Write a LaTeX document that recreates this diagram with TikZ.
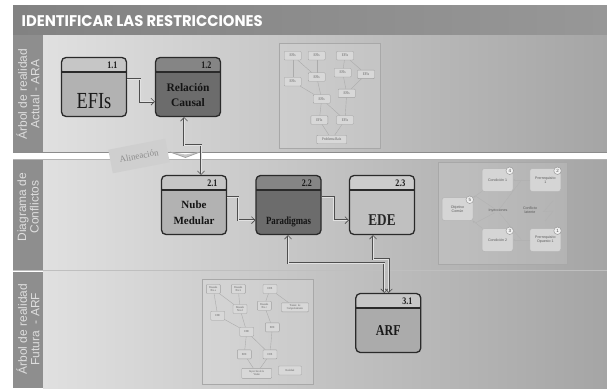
\documentclass[tikz,border=0pt]{standalone}
\usepackage{fontspec}
\usepackage{graphicx}
\setmainfont{Liberation Serif}
\setsansfont{Liberation Sans}
\newfontfamily\titlefont{Poppins}
\newfontfamily\narrowserif{Liberation Serif}[FakeStretch=0.8]
\usetikzlibrary{arrows.meta,calc}

\definecolor{titleL}{HTML}{828282}
\definecolor{titleR}{HTML}{979797}
\definecolor{bandgray}{HTML}{8E8E8E}
\definecolor{bandtext}{HTML}{DEDEDE}
\definecolor{laneL}{HTML}{E0E0E0}
\definecolor{laneM}{HTML}{D4D4D4}
\definecolor{laneR}{HTML}{A5A5A5}
\definecolor{boxline}{HTML}{2A2A2A}
\definecolor{lightHdr}{HTML}{C6C6C6}
\definecolor{lightBody}{HTML}{B2B2B2}
\definecolor{darkHdr}{HTML}{858585}
\definecolor{darkBody}{HTML}{6C6C6C}
\definecolor{edeHdr}{HTML}{CCCCCC}
\definecolor{edeBody}{HTML}{C0C0C0}
\definecolor{arfBody}{HTML}{ABABAB}
\definecolor{connline}{HTML}{4E4E4E}
\definecolor{connfill}{HTML}{E2E2E2}
\definecolor{insetline}{HTML}{A8A8A8}
\definecolor{miniline}{HTML}{A0A0A0}
\definecolor{minifill}{HTML}{D8D8D8}
\definecolor{minitext}{HTML}{5A5A5A}
\definecolor{minilink}{HTML}{ABABAB}
\definecolor{cloudline}{HTML}{B4B4B4}
\definecolor{cloudfill}{HTML}{D5D5D5}
\definecolor{tagfill}{HTML}{CFCFCF}
\definecolor{tagtext}{HTML}{8C8C8C}

\tikzset{
  procbox/.style 2 args={draw=boxline, line width=1.3pt, rounded corners=4.5pt,
    minimum width=65pt, minimum height=59pt, inner sep=0pt, fill=#2,
    path picture={
      \fill[#1] (path picture bounding box.north west) rectangle
        ([yshift=-14.5pt]path picture bounding box.north east);
      \draw[boxline, line width=1.1pt]
        ([yshift=-14.5pt]path picture bounding box.north west) --
        ([yshift=-14.5pt]path picture bounding box.north east);}},
  boxnum/.style={font=\narrowserif\bfseries\fontsize{10}{10}\selectfont,
    anchor=base east, inner sep=0pt, text=black!90},
  boxlbl/.style={font=\bfseries\fontsize{11.5}{15}\selectfont, align=center,
    inner sep=0pt, text=black!92},
  bandlbl/.style={rotate=90, align=center, text=bandtext, inner sep=0pt,
    font=\sffamily\fontsize{12}{12.5}\selectfont},
  conn/.style={draw=connline, double=connfill, line width=0.45pt,
    double distance=0.9pt},
  conntip/.tip={Straight Barb[length=3.5pt,width=7pt,line width=0.6pt]},
  mini/.style={draw=miniline, fill=minifill, line width=0.4pt,
    rounded corners=0.8pt, inner sep=0.4pt, minimum width=17pt,
    minimum height=8.5pt, align=center, text=minitext,
    font=\narrowserif\fontsize{4}{4.2}\selectfont},
  minis/.style={mini, minimum width=14pt, minimum height=9pt,
    font=\narrowserif\fontsize{3}{3.3}\selectfont},
  minilink/.style={draw=minilink, line width=0.4pt},
  inset/.style={draw=insetline, line width=0.5pt, fill=white, fill opacity=0.12},
  cloudbox/.style={draw=cloudline, fill=cloudfill, line width=0.5pt,
    rounded corners=2.5pt, minimum width=31pt, minimum height=23pt,
    inner sep=0.5pt, align=center, text=minitext,
    font=\sffamily\fontsize{3.6}{4}\selectfont},
  badge/.style={circle, draw=black!40, fill=black!6, line width=0.5pt,
    minimum size=7.5pt, inner sep=0pt, text=black!70,
    font=\sffamily\fontsize{4.5}{4.5}\selectfont},
  cloudtext/.style={inner sep=0pt, align=center, text=minitext,
    font=\sffamily\fontsize{3.6}{4}\selectfont},
  cloudlink/.style={draw=black!30, line width=0.4pt},
  cloudarrow/.style={cloudlink, -{Stealth[length=2.2pt,width=2.2pt]}}
}

\begin{document}
\begin{tikzpicture}[x=1pt,y=-1pt]
\useasboundingbox (0,0) rectangle (607,388);
\fill[white] (0,0) rectangle (607,388);

% title bar
\shade[left color=titleL, right color=titleR] (13,5) rectangle (607,35);
\node[anchor=west, inner sep=0pt, text=white] (title) at (21.5,21.5)
  {\resizebox{241pt}{11pt}{\titlefont\bfseries IDENTIFICAR LAS RESTRICCIONES}};

% swimlanes
\shade[left color=laneL, middle color=laneM, right color=laneR] (43,35) rectangle (607,152);
\shade[left color=laneL, middle color=laneM, right color=laneR] (43,159) rectangle (607,270);
\shade[left color=laneL, middle color=laneM, right color=laneR] (43,271.5) rectangle (607,388);
\fill[bandgray] (13,35) rectangle (43,152);
\fill[bandgray] (13,159) rectangle (43,270);
\fill[bandgray] (13,271.5) rectangle (43,388);
\fill[white] (13,152.5) rectangle (607,158.5);
\draw[black!45, line width=0.6pt] (13,152) -- (607,152);
\draw[black!30, line width=0.5pt] (13,159) -- (607,159);
\draw[black!25, line width=0.9pt] (13,270.8) -- (607,270.8);

% lane titles
\node[bandlbl] (lane1) at (28,94) {Árbol de realidad\\Actual - ARA};
\node[bandlbl] (lane2) at (28,207) {Diagrama de\\Conflictos};
\node[bandlbl] (lane3) at (28,329) {Árbol de realidad\\Futura~~- ARF};

% current reality tree thumbnail
\draw[inset] (279,43) rectangle (380,148);
\node[mini] (t1a) at (292.7,55.7) {EFIs};
\node[mini] (t1b) at (316.7,55.7) {EFIs};
\node[mini] (t1c) at (345,55.7) {EFIs};
\node[mini] (t1d) at (342.7,72.7) {EFIs};
\node[mini] (t1e) at (366,74.3) {EFIs};
\node[mini] (t1f) at (292.7,81.7) {EFIs};
\node[mini] (t1g) at (316.7,77) {EFIs};
\node[mini] (t1h) at (346.7,93.3) {EFIs};
\node[mini] (t1i) at (321.7,99) {EFIs};
\node[mini] (t1j) at (319.3,120) {EFIs};
\node[mini] (t1k) at (345,120) {EFIs};
\node[mini, minimum width=30pt] (t1r) at (331.7,139.5) {Problema Raíz};
\draw[minilink] (t1a) -- (t1f);
\draw[minilink] (t1a) -- (t1g);
\draw[minilink] (t1b) -- (t1g);
\draw[minilink] (t1c) -- (t1d);
\draw[minilink] (t1c) -- (t1e);
\draw[minilink] (t1d) -- (t1h);
\draw[minilink] (t1e) -- (t1h);
\draw[minilink] (t1f) -- (t1i);
\draw[minilink] (t1g) -- (t1i);
\draw[minilink] (t1i) -- (t1j);
\draw[minilink] (t1i) -- (t1k);
\draw[minilink] (t1h) -- (t1k);
\draw[minilink] (t1j) -- (t1r);
\draw[minilink] (t1k) -- (t1r);

% conflict cloud thumbnail
\draw[inset] (438,162) rectangle (567,264);
\node[cloudbox] (cond1) at (497.5,180) {Condición 1};
\node[cloudbox] (pre1) at (545.3,180) {Prerrequisito\\1};
\node[cloudbox] (obj) at (457.5,209) {Objetivo\\Común};
\node[cloudbox] (cond2) at (497.5,240) {Condición 2};
\node[cloudbox] (pre2) at (545.3,240) {Prerrequisito\\Opuesto 1};
\node[badge] (b4) at ($(cond1.north east)+(-3.5,2.5)$) {4};
\node[badge] (b2) at ($(pre1.north east)+(-3.5,2.5)$) {2};
\node[badge] (b5) at ($(obj.north east)+(-3.5,2.5)$) {5};
\node[badge] (b3) at ($(cond2.north east)+(-3.5,2.5)$) {3};
\node[badge] (b1) at ($(pre2.north east)+(-3.5,2.5)$) {1};
\node[cloudtext] (iny) at (498,211) {Inyecciones};
\node[cloudtext] (lat) at (530,210) {Conflicto\\latente};
\draw[cloudarrow] (cond1) -- (obj);
\draw[cloudarrow] (cond2) -- (obj);
\draw[cloudarrow] (pre1) -- (cond1);
\draw[cloudarrow] (pre2) -- (cond2);
\draw[cloudlink] (iny) -- ($(cond1)!0.55!(obj)$);
\draw[cloudlink] (iny) -- ($(cond2)!0.55!(obj)$);
\draw[cloudlink] (iny) -- ($(pre1.west)!0.5!(cond1.east)$);
\draw[cloudlink] (iny) -- ($(pre2.west)!0.5!(cond2.east)$);
\coordinate (z1) at (553.3,200.7);
\coordinate (z2) at (545,221);
\draw[cloudlink, line width=0.5pt] (z1) -- (543.3,211.7) -- (553.3,211) -- (z2);

% future reality tree thumbnail
\draw[inset] (202,279) rectangle (313,384);
\node[minis] (f1a) at (213.3,289) {Deseado\\Nro a};
\node[minis] (f1b) at (238.3,289) {Deseado\\Nro b};
\node[minis] (f1c) at (270,289) {EDE};
\node[minis] (f1d) at (264.3,305.7) {Deseado\\Nro c};
\node[minis, minimum width=27pt] (f1e) at (295,307.3) {Transic. de\\Comportamiento};
\node[minis] (f1f) at (240,309) {Deseado\\Nro d};
\node[minis] (f1g) at (217.7,315.7) {EDE};
\node[minis] (f1h) at (246.7,331.7) {EDE};
\node[minis] (f1i) at (272.3,327.3) {EDE};
\node[minis] (f1j) at (244.3,354.3) {EDE};
\node[minis] (f1k) at (270,354.3) {EDE};
\node[minis, minimum width=30pt, minimum height=10pt] (f1l) at (256.7,373.3) {Inyección de la\\Visión};
\node[minis, minimum width=23pt] (f1m) at (290,370.5) {Realidad};
\draw[minilink] (f1a) -- (f1g);
\draw[minilink] (f1a) -- (f1f);
\draw[minilink] (f1b) -- (f1f);
\draw[minilink] (f1c) -- (f1d);
\draw[minilink] (f1c) -- (f1e);
\draw[minilink] (f1d) -- (f1i);
\draw[minilink] (f1f) -- (f1h);
\draw[minilink] (f1g) -- (f1h);
\draw[minilink] (f1h) -- (f1j);
\draw[minilink] (f1h) -- (f1k);
\draw[minilink] (f1i) -- (f1k);
\draw[minilink] (f1j) -- (f1l);
\draw[minilink] (f1k) -- (f1l);

% alignment tag
\node[fill=tagfill, text=tagtext, rotate=11,
  minimum width=58pt, minimum height=24pt, inner sep=0pt,
  font=\fontsize{9}{9}\selectfont] (alin) at (139,156) {Alineación};
\coordinate (vL) at (170,152);
\coordinate (vR) at (200,152);
\fill[black!22] (vL) -- (185.5,157.5) -- (vR) -- (185.5,154.5) -- cycle;
\draw[black!38, line width=0.7pt, line join=round] (vL) -- (185.5,157.5) -- (vR);

% process boxes
\node[procbox={lightHdr}{lightBody}] (efis) at (94,87) {};
\node[procbox={darkHdr}{darkBody}] (rc) at (188,87) {};
\node[procbox={lightHdr}{lightBody}] (nube) at (194,205) {};
\node[procbox={darkHdr}{darkBody}] (para) at (288.5,205) {};
\node[procbox={edeHdr}{edeBody}] (ede) at (382,205) {};
\node[procbox={lightHdr}{arfBody}] (arf) at (388.3,323) {};

\node[boxnum] at ($(efis.north east)+(-9.5,11.5)$) {1.1};
\node[boxnum] at ($(rc.north east)+(-9.5,11.5)$) {1.2};
\node[boxnum] at ($(nube.north east)+(-9.5,11.5)$) {2.1};
\node[boxnum] at ($(para.north east)+(-9.5,11.5)$) {2.2};
\node[boxnum] at ($(ede.north east)+(-9.5,11.5)$) {2.3};
\node[boxnum] at ($(arf.north east)+(-9,11.5)$) {3.1};

\node[font=\narrowserif\fontsize{23}{23}\selectfont, anchor=base, inner sep=0pt,
  text=black!90] at (94,108.3) {EFIs};
\node[boxlbl] at (188,95) {Relación\\Causal};
\node[boxlbl, font=\bfseries\fontsize{11}{16}\selectfont] at (194,212.5) {Nube\\Medular};
\node[font=\narrowserif\bfseries\fontsize{11}{11}\selectfont, anchor=base,
  inner sep=0pt, text=black!92] at (288.5,224) {Paradigmas};
\node[font=\narrowserif\bfseries\fontsize{16.5}{16.5}\selectfont, anchor=base,
  inner sep=0pt, text=black!85] at (382,225) {EDE};
\node[font=\narrowserif\bfseries\fontsize{15}{15}\selectfont, anchor=base,
  inner sep=0pt, text=black!90] at (388.3,335) {ARF};

% connectors
\draw[conn, -conntip] ($(efis.north east)+(0,22.5)$) -- ++(13,0)
  |- ($(rc.south west)+(0,-15.5)$);
\draw[conn, conntip-conntip] ($(rc.south)+(-4,0)$) -- ++(0,28)
  -| ($(nube.north)+(7,0)$);
\draw[conn, -conntip] ($(nube.north east)+(0,22.5)$) -- ++(11,0)
  |- ($(para.south west)+(0,-15)$);
\draw[conn, -conntip] ($(para.north east)+(0,22.5)$) -- ++(12,0)
  |- ($(ede.south west)+(0,-15)$);
\draw[conn, conntip-conntip] ($(para.south)+(-0.5,0)$) -- ++(0,28)
  -| ($(arf.north)+(-4,0)$);
\draw[conn, conntip-conntip] ($(ede.south)+(-9,0)$) -- ++(0,24)
  -| ($(arf.north)+(0.5,0)$);
\end{tikzpicture}
\end{document}
